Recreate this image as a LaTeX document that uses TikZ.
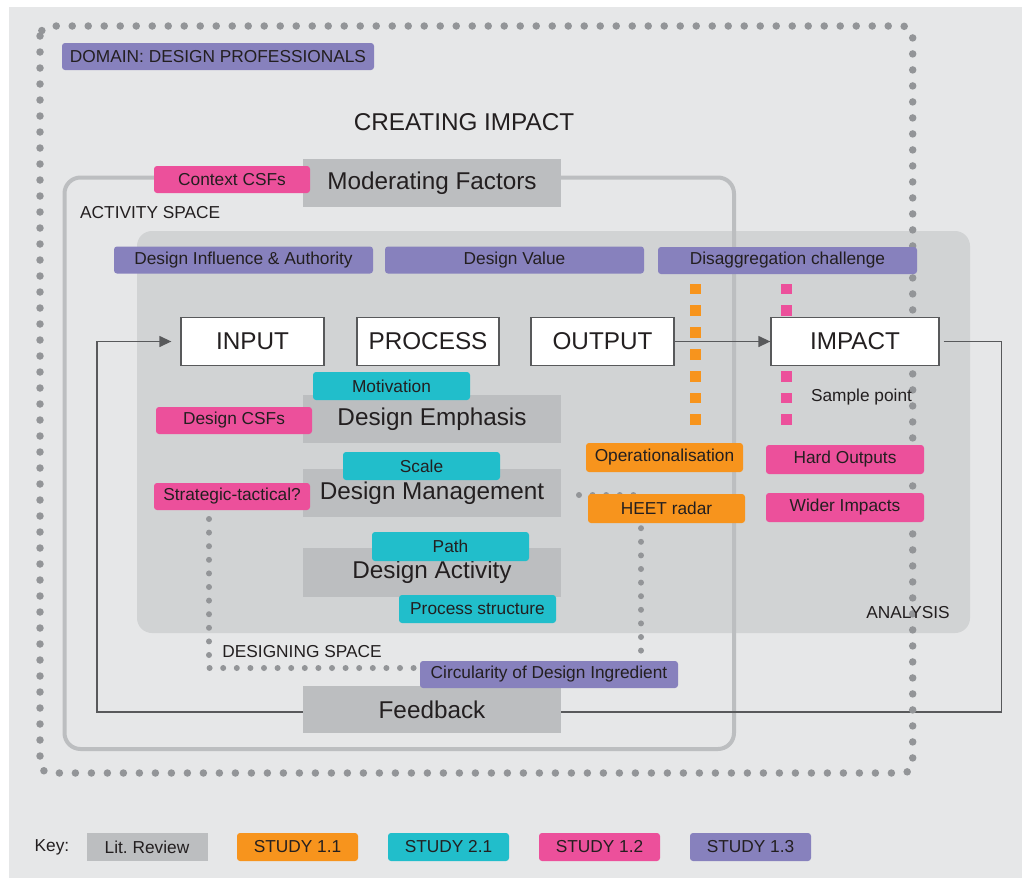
\documentclass[tikz,border=0pt]{standalone}
\usepackage{fontspec}
\setmainfont{Liberation Sans}
\usetikzlibrary{arrows.meta}
\definecolor{imBg}{HTML}{E6E7E8}
\definecolor{imPanel}{HTML}{D1D3D4}
\definecolor{imLit}{HTML}{BCBEC0}
\definecolor{imDot}{HTML}{939598}
\definecolor{imInk}{HTML}{231F20}
\definecolor{imLine}{HTML}{58595B}
\definecolor{imOrange}{HTML}{F7941D}
\definecolor{imTeal}{HTML}{21BECB}
\definecolor{imPink}{HTML}{EC509B}
\definecolor{imPurple}{HTML}{8781BD}
\frenchspacing

\begin{document}
\begin{tikzpicture}[x=1pt,y=-1pt,
    small/.style={font=\fontsize{17.3}{20}\selectfont, text=imInk},
    big/.style={font=\fontsize{24.3}{28}\selectfont, text=imInk},
    tag/.style={small, rounded corners=3pt, inner sep=0pt, minimum width=157pt, minimum height=28pt},
    widetag/.style={tag, fill=imPurple, minimum width=259pt, minimum height=27pt},
    litbox/.style={big, fill=imLit, inner sep=0pt, minimum width=258pt, minimum height=48pt},
    stage/.style={big, draw=imLine, line width=1.3pt, fill=white, inner sep=0pt, minimum height=48pt},
    keybox/.style={small, inner sep=0pt, minimum width=121pt, minimum height=28pt},
    dots/.style={imDot, line cap=round, line width=7.5pt, dash pattern=on 0pt off 16pt},
    fine dots/.style={imDot, line cap=round, line width=6pt, dash pattern=on 0pt off 13.6pt},
    fbline/.style={imLine, line width=1.3pt},
    arr/.style={-{Triangle[length=12pt,width=11pt]}}]
  \useasboundingbox (0,0) rectangle (1022,878);
  \fill[white] (0,0) rectangle (1022,878);
  \fill[imBg] (9,7) rectangle (1022,878);

  \fill[imPanel, rounded corners=15pt] (137,231) rectangle (970,633);
  \draw[imLit, line width=4pt, rounded corners=16pt] (64.5,177.5) rectangle (734,749);

  \node[stage, minimum width=143pt] (input)   at (252.5,341.5) {INPUT};
  \node[stage, minimum width=142pt] (process) at (428,341.5)   {PROCESS};
  \node[stage, minimum width=143pt] (output)  at (602.5,341.5) {OUTPUT};
  \node[stage, minimum width=168pt, fill=none, draw=none] (impact) at (855,341.5) {};

  \coordinate (fbR) at (1001.5,712);
  \coordinate (fbL) at (97,712);
  \draw[fbline, arr] ([xshift=4pt]impact.east) -| (fbR) -- (fbL) |- ([xshift=-9pt]input.west);

  \draw[dots, rounded corners=10pt] (40,26) rectangle (912.7,773);
  \draw[fine dots] (209,519) -- (209,668) -- (641,668) -- (641,495) -- (572,495);

  \foreach \k in {0,...,6} {
    \fill[imOrange] (690,283.6+21.8*\k) rectangle ++(10.7,10.7);
    \fill[imPink] (781.3,283.6+21.8*\k) rectangle ++(10.7,10.7);
  }

  \node[stage, minimum width=168pt] at (impact) {IMPACT};
  \draw[fbline, arr] (output.east) -- (output.east -| impact.west);

  \node[widetag, minimum width=312pt] (domain) at (218,56.5) {DOMAIN: DESIGN PROFESSIONALS};
  \node[big] (title) at (464,122) {CREATING IMPACT};
  \node[litbox] (modf) at (432,183) {Moderating Factors};
  \node[tag, fill=imPink, minimum width=156pt, minimum height=27pt] (ctxcsf) at (232,179.5) {Context CSFs};
  \node[small, anchor=west, inner sep=0pt] (actspace) at (80,213) {ACTIVITY SPACE};

  \node[widetag] (influence) at (243.5,260) {Design Influence \& Authority};
  \node[widetag] (dvalue) at (514.5,260) {Design Value};
  \node[widetag] (disagg) at (787.5,260.5) {Disaggregation challenge};

  \node[small] (sample) at (861.5,397) {Sample point};

  \node[litbox] (emph) at (432,419) {Design Emphasis};
  \node[tag, fill=imTeal] (motiv) at (391.5,386) {Motivation};
  \node[tag, fill=imPink, minimum width=156pt, minimum height=27pt] (dcsf) at (234,420.5) {Design CSFs};

  \node[litbox] (mgmt) at (432,493) {Design Management};
  \node[tag, fill=imTeal] (scale) at (421.5,466) {Scale};
  \node[tag, fill=imPink, minimum width=156pt, minimum height=27pt] (strat) at (232,496.5) {Strategic-tactical?};

  \node[litbox, minimum height=49pt] (act) at (432,572.5) {Design Activity};
  \node[tag, fill=imTeal, minimum height=29pt] (path) at (450.5,546.5) {Path};
  \node[tag, fill=imTeal] (pstruct) at (477.5,609) {Process structure};

  \node[tag, fill=imOrange, minimum height=29pt] (oper) at (664.5,457.5) {Operationalisation};
  \node[tag, fill=imOrange, minimum height=29pt] (heet) at (666.5,508.5) {HEET radar};
  \node[tag, fill=imPink, minimum width=158pt, minimum height=29pt] (hard) at (845,459.5) {Hard Outputs};
  \node[tag, fill=imPink, minimum width=158pt, minimum height=29pt] (wider) at (845,507.5) {Wider Impacts};

  \node[small] (analysis) at (908,612.5) {ANALYSIS};
  \node[small] (dspace) at (302,652) {DESIGNING SPACE};
  \node[litbox, minimum height=47pt] (feedback) at (432,709.5) {Feedback};
  \node[widetag, minimum width=258pt] (circ) at (549,674.5) {Circularity of Design Ingredient};

  \node[small] (key) at (52,847) {Key:};
  \node[keybox, fill=imLit] (klit) at (147,847) {Lit. Review};
  \node[keybox, fill=imOrange, rounded corners=3pt] (k11) at (297.5,847) {STUDY 1.1};
  \node[keybox, fill=imTeal, rounded corners=3pt] (k21) at (448.5,847) {STUDY 2.1};
  \node[keybox, fill=imPink, rounded corners=3pt] (k12) at (599.5,847) {STUDY 1.2};
  \node[keybox, fill=imPurple, rounded corners=3pt] (k13) at (750.5,847) {STUDY 1.3};
\end{tikzpicture}
\end{document}
